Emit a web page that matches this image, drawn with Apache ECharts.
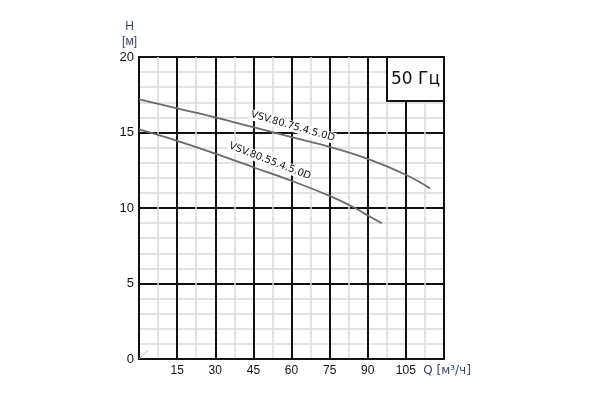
<!DOCTYPE html>
<html>
<head>
<meta charset="utf-8">
<script src="https://cdn.jsdelivr.net/npm/echarts@6/dist/echarts.min.js"></script>
<style>
html,body{margin:0;padding:0;background:#fff;}
#chart{width:592px;height:402px;}
</style>
</head>
<body>
<div id="chart"></div>
<script>
// ---- data ----
const seriesNames = ['VSV.80.75.4.5.0D', 'VSV.80.55.4.5.0D'];
const q75 = [0, 15, 30, 45, 60, 75, 90, 105, 114.5];
const h75 = [17.2, 16.6, 16.0, 15.35, 14.7, 14.05, 13.25, 12.2, 11.3];
const q55 = [0, 15, 30, 45, 60, 75, 85, 90, 95.5];
const h55 = [15.2, 14.45, 13.6, 12.7, 11.8, 10.8, 10.0, 9.5, 9.0];
const xTicks = [0, 15, 30, 45, 60, 75, 90, 105, 120];
const yTicks = [0, 5, 10, 15, 20];
const cornerQ = [0, 3.5];
const cornerH = [0, 0.55];
const freqLabel = '50 Гц';
const xName = 'Q [м³/ч]';
const yName = 'H\n[м]';

function pairs(xs, ys) { return xs.map((x, i) => [x, ys[i]]); }

const chart = echarts.init(document.getElementById('chart'), null, {renderer: 'canvas'});
const nameColor = '#34466a';
const curveLabel = {show: true, position: 'inside', formatter: '{b}', color: '#111', fontSize: 10, fontFamily: 'DejaVu Sans', backgroundColor: '#fff', padding: [1, 1, 0, 1]};
const option = {
  animation: false,
  backgroundColor: '#fff',
  grid: {left: 139, right: 148, top: 57, bottom: 43, show: true, borderColor: '#111', borderWidth: 2, backgroundColor: '#fff'},
  xAxis: {
    type: 'value', min: xTicks[0], max: xTicks[xTicks.length - 1], interval: xTicks[1] - xTicks[0],
    axisLine: {show: true, onZero: false, lineStyle: {color: '#111', width: 2}},
    axisTick: {show: false},
    axisLabel: {
      color: '#111', fontSize: 12, fontFamily: 'Liberation Sans', margin: 6,
      formatter: v => (v === xTicks[0] || v === xTicks[xTicks.length - 1]) ? '' : String(v)
    },
    splitLine: {show: true, lineStyle: {color: '#111', width: 2}},
    minorTick: {show: false, splitNumber: 2},
    minorSplitLine: {show: true, lineStyle: {color: '#dadada', width: 1.5}},
    name: xName, nameLocation: 'end', nameGap: 3,
    nameTextStyle: {color: nameColor, fontSize: 12, fontFamily: 'DejaVu Sans', align: 'center', verticalAlign: 'top', padding: [6, 0, 0, 0]}
  },
  yAxis: {
    type: 'value', min: yTicks[0], max: yTicks[yTicks.length - 1], interval: yTicks[1] - yTicks[0],
    axisLine: {show: true, onZero: false, lineStyle: {color: '#111', width: 2}},
    axisTick: {show: false},
    axisLabel: {color: '#111', fontSize: 13, fontFamily: 'Liberation Sans', margin: 5},
    splitLine: {show: true, lineStyle: {color: '#111', width: 2}},
    minorTick: {show: false, splitNumber: 5},
    minorSplitLine: {show: true, lineStyle: {color: '#dadada', width: 1.5}},
    name: yName, nameLocation: 'end', nameGap: 8,
    nameTextStyle: {color: nameColor, fontSize: 12, fontFamily: 'Liberation Sans', align: 'center', lineHeight: 15, padding: [0, 19, 0, 0]}
  },
  series: [
    {
      name: seriesNames[0], type: 'line', data: pairs(q75, h75), smooth: 0.4, showSymbol: false,
      lineStyle: {color: '#6a6a6a', width: 1.8}, z: 3,
      markPoint: {
        symbol: 'circle', symbolSize: 0, silent: true, z: 2,
        data: [{coord: [60.5, 15.4], name: seriesNames[0]}],
        label: Object.assign({rotate: -16}, curveLabel)
      }
    },
    {
      name: seriesNames[1], type: 'line', data: pairs(q55, h55), smooth: 0.4, showSymbol: false,
      lineStyle: {color: '#6a6a6a', width: 1.8}, z: 3,
      markPoint: {
        symbol: 'circle', symbolSize: 0, silent: true, z: 2,
        data: [{coord: [51.5, 13.1], name: seriesNames[1]}],
        label: Object.assign({rotate: -21}, curveLabel)
      }
    },
    {
      name: 'corner', type: 'line', data: pairs(cornerQ, cornerH), showSymbol: false, silent: true,
      lineStyle: {color: '#aaa', width: 1}, z: 2
    }
  ],
  graphic: [
    {type: 'rect', z: 100, shape: {x: 387, y: 57, width: 57, height: 44}, style: {fill: '#fff', stroke: '#111', lineWidth: 2}},
    {type: 'text', z: 101, x: 415.5, y: 80, style: {text: freqLabel, fill: '#111', font: '17px "DejaVu Sans"', textAlign: 'center', textVerticalAlign: 'middle'}}
  ]
};
chart.setOption(option);
</script>
</body>
</html>
